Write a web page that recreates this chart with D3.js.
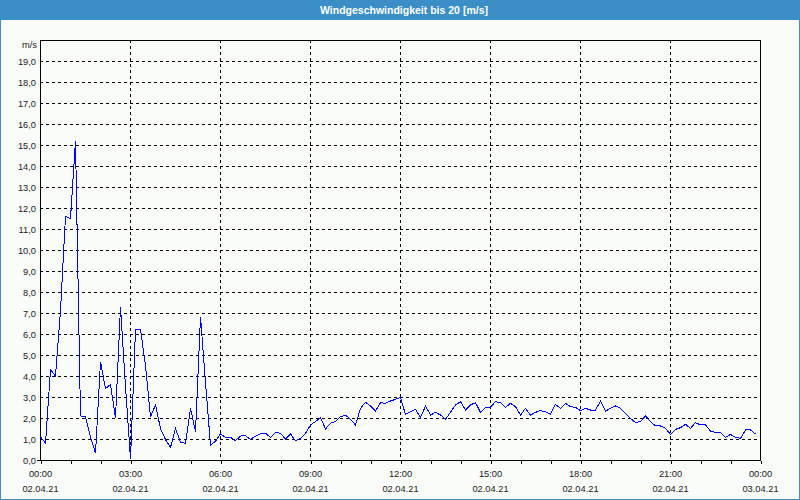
<!DOCTYPE html>
<html>
<head>
<meta charset="utf-8">
<script src="https://cdn.jsdelivr.net/npm/d3@7/dist/d3.min.js"></script>
<style>
  html, body { margin: 0; padding: 0; background: #ffffff; }
  svg { display: block; }
  .lbl { font-family: "Liberation Sans", Arial, sans-serif; font-size: 9.3px; fill: #1a1a1a; }
</style>
</head>
<body>
<svg id="chart" width="800" height="500"></svg>
<script>
// ---- data ----
const title = "Windgeschwindigkeit bis 20 [m/s]";
const unitLabel = "m/s";
const sampleIntervalMinutes = 10; // one reading every 10 minutes, starting 02.04.21 00:00
const windSpeed = [
  1.1, 0.8, 4.3, 4.0, 7.1, 11.6, 11.5, 15.2, 2.1, 2.05,
  1.1, 0.33, 4.68, 3.4, 3.6, 2.0, 7.3, 3.5, 0.05, 6.2,
  6.22, 4.5, 2.06, 2.62, 1.5, 0.97, 0.6, 1.5, 0.85, 0.79,
  2.46, 1.35, 6.83, 3.7, 0.71, 0.9, 1.24, 1.08, 1.08, 0.92,
  1.14, 1.16, 0.98, 1.14, 1.24, 1.27, 1.08, 1.32, 1.27, 1.0,
  1.24, 0.92, 1.03, 1.27, 1.67, 1.83, 2.02, 1.48, 1.75, 1.83,
  2.06, 2.14, 1.94, 1.67, 2.46, 2.75, 2.57, 2.33, 2.73, 2.70,
  2.81, 2.89, 2.97, 2.17, 2.3, 2.41, 2.02, 2.57, 2.14, 2.27,
  2.14, 1.95, 2.27, 2.62, 2.78, 2.38, 2.62, 2.73, 2.27, 2.51,
  2.51, 2.78, 2.73, 2.51, 2.70, 2.54, 2.14, 2.46, 2.14, 2.27,
  2.35, 2.3, 2.19, 2.65, 2.46, 2.70, 2.54, 2.51, 2.35, 2.46,
  2.38, 2.38, 2.81, 2.33, 2.46, 2.57, 2.46, 2.22, 1.98, 1.78,
  1.83, 2.1, 1.83, 1.62, 1.62, 1.51, 1.22, 1.46, 1.54, 1.7,
  1.51, 1.78, 1.67, 1.67, 1.38, 1.32, 1.32, 1.08, 1.22, 1.08,
  1.03, 1.43, 1.43, 1.24
];
const majorTickHours = [0, 3, 6, 9, 12, 15, 18, 21, 24];
const timeLabels = ["00:00", "03:00", "06:00", "09:00", "12:00", "15:00", "18:00", "21:00", "00:00"];
const dateLabels = ["02.04.21", "02.04.21", "02.04.21", "02.04.21", "02.04.21", "02.04.21", "02.04.21", "02.04.21", "03.04.21"];
const minorTickHours = d3.range(0, 25, 1);
const yTickValues = d3.range(0, 20, 1);

// ---- layout ----
const W = 800, H = 500;
const plot = { left: 40, right: 760, top: 40, bottom: 460 };

const svg = d3.select("#chart");

// frame + background
svg.append("rect").attr("x", 0).attr("y", 0).attr("width", W).attr("height", H).attr("fill", "#3c8fc6");
svg.append("rect").attr("x", 1).attr("y", 20).attr("width", W - 2).attr("height", H - 21).attr("fill", "#fafcfa");

svg.append("text")
  .attr("x", 404).attr("y", 14)
  .attr("text-anchor", "middle")
  .style("font-family", "'Liberation Sans', Arial, sans-serif")
  .style("font-size", "10.5px").style("font-weight", "bold")
  .attr("fill", "#ffffff")
  .text(title);

const x = d3.scaleLinear().domain([0, 24 * 60]).range([plot.left, plot.right]);
const y = d3.scaleLinear().domain([0, 20]).range([plot.bottom, plot.top]);

const g = svg.append("g");

// horizontal grid (dashed)
g.append("g").selectAll("line")
  .data(yTickValues.filter(v => v > 0))
  .join("line")
  .attr("x1", plot.left).attr("x2", plot.right)
  .attr("y1", d => Math.round(y(d)) + 0.5).attr("y2", d => Math.round(y(d)) + 0.5)
  .attr("stroke", "#000").attr("stroke-width", 1)
  .attr("stroke-dasharray", "3,3")
  .attr("shape-rendering", "crispEdges");

// vertical grid (dashed) at 3h
g.append("g").selectAll("line")
  .data(majorTickHours.filter(h => h > 0 && h < 24))
  .join("line")
  .attr("x1", d => Math.round(x(d * 60)) + 0.5).attr("x2", d => Math.round(x(d * 60)) + 0.5)
  .attr("y1", plot.top).attr("y2", plot.bottom)
  .attr("stroke", "#000").attr("stroke-width", 1)
  .attr("stroke-dasharray", "3,3")
  .attr("shape-rendering", "crispEdges");

// plot border
g.append("rect")
  .attr("x", plot.left + 0.5).attr("y", plot.top + 0.5)
  .attr("width", plot.right - plot.left).attr("height", plot.bottom - plot.top)
  .attr("fill", "none").attr("stroke", "#000").attr("stroke-width", 1)
  .attr("shape-rendering", "crispEdges");

// minor ticks (hourly)
const minorAxis = d3.axisBottom(x)
  .tickValues(minorTickHours.map(h => h * 60))
  .tickSize(3).tickFormat("");
svg.append("g").attr("transform", `translate(0.5,${plot.bottom + 0.5})`)
  .call(minorAxis)
  .call(s => s.select(".domain").remove())
  .call(s => s.selectAll("line").attr("stroke", "#000").attr("shape-rendering", "crispEdges"));

// major labels
const majorAxis = d3.axisBottom(x)
  .tickValues(majorTickHours.map(h => h * 60))
  .tickSize(0).tickPadding(0)
  .tickFormat((d, i) => timeLabels[i]);
const xg = svg.append("g").attr("transform", `translate(0,${plot.bottom})`).call(majorAxis);
xg.select(".domain").remove();
xg.selectAll("text")
  .attr("class", "lbl")
  .attr("y", 17).attr("dy", null)
  .attr("font-family", null).attr("font-size", null)
  .each(function (d, i) {
    d3.select(this.parentNode).append("text")
      .attr("class", "lbl")
      .attr("y", 32)
      .attr("text-anchor", "middle")
      .text(dateLabels[i]);
  });

// y axis labels
const fmt = d3.format(".1f");
const yAxis = d3.axisLeft(y)
  .tickValues(yTickValues)
  .tickSize(0).tickPadding(4)
  .tickFormat(d => fmt(d).replace(".", ","));
const yg = svg.append("g").attr("transform", `translate(${plot.left},0)`).call(yAxis);
yg.select(".domain").remove();
yg.selectAll("text").attr("class", "lbl").attr("font-family", null).attr("font-size", null)
  .attr("dy", "0.35em");
yg.selectAll(".tick line").remove();
// small tick at zero
svg.append("line").attr("x1", plot.left - 3).attr("x2", plot.left)
  .attr("y1", plot.bottom + 0.5).attr("y2", plot.bottom + 0.5)
  .attr("stroke", "#000").attr("shape-rendering", "crispEdges");

svg.append("text").attr("class", "lbl")
  .attr("x", 37).attr("y", 48).attr("text-anchor", "end")
  .text(unitLabel);

// data line
const line = d3.line()
  .x((d, i) => x(i * sampleIntervalMinutes) + 0.5)
  .y(d => y(d));
svg.append("path")
  .datum(windSpeed)
  .attr("d", line)
  .attr("fill", "none")
  .attr("stroke", "#0000ff")
  .attr("stroke-width", 1)
  .attr("shape-rendering", "crispEdges");
</script>
</body>
</html>
